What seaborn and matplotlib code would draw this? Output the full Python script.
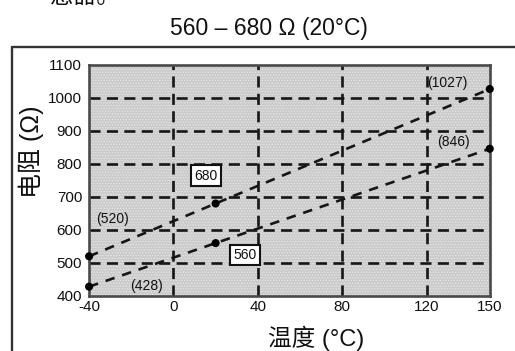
import matplotlib
matplotlib.use("Agg")
import matplotlib.pyplot as plt
import pandas as pd
import seaborn as sns
from matplotlib.lines import Line2D
from matplotlib.patches import Rectangle

# Resistance characteristic of the temperature sensor (upper / lower limit)
temps = [-40, 20, 150]
r_max = [520, 680, 1027]
r_min = [428, 560, 846]

x_ticks = [-40, 0, 40, 80, 120, 150]
y_ticks = [400, 500, 600, 700, 800, 900, 1000, 1100]

title = "560 – 680 Ω (20°C)"
x_label = "温度 (°C)"
y_label = "电阻 (Ω)"
caption_tail = "感器。"

df = pd.DataFrame({"temp": temps, "r_max": r_max, "r_min": r_min})

sns.set_theme(style="white")
plt.rcParams["font.family"] = ["Liberation Sans", "Noto Sans CJK SC", "DejaVu Sans"]
plt.rcParams["axes.unicode_minus"] = False
plt.rcParams["hatch.linewidth"] = 0.6

fig = plt.figure(figsize=(5.15, 3.51), dpi=100)
ax = fig.add_axes([0.173, 0.157, 0.778, 0.658])

# stippled grey plot area
ax.set_facecolor("#cbcbcb")
ax.add_patch(Rectangle((0, 0), 1, 1, transform=ax.transAxes, facecolor="none",
                       edgecolor="#e6e6e6", hatch="......", lw=0, zorder=0))

dash = (0, (4.2, 2.4))
for yv in y_ticks[1:-1]:
    ax.axhline(yv, color="#161616", lw=1.9, linestyle=dash, zorder=1)
for xv in x_ticks[1:-1]:
    ax.axvline(xv, color="#161616", lw=1.9, linestyle=dash, zorder=1)

line_dash = (0, (3.6, 3.0))
sns.lineplot(data=df, x="temp", y="r_max", ax=ax, color="#161616", lw=1.9,
             linestyle=line_dash, zorder=2)
sns.lineplot(data=df, x="temp", y="r_min", ax=ax, color="#161616", lw=1.9,
             linestyle=line_dash, zorder=2)
sns.scatterplot(data=df, x="temp", y="r_max", ax=ax, color="black", s=34,
                edgecolor="none", clip_on=False, zorder=6)
sns.scatterplot(data=df, x="temp", y="r_min", ax=ax, color="black", s=34,
                edgecolor="none", clip_on=False, zorder=6)

ax.set_xlim(-40, 150)
ax.set_ylim(400, 1100)
ax.set_xticks(x_ticks)
ax.set_yticks(y_ticks)
ax.tick_params(axis="both", length=0, labelsize=11, colors="#111111")
ax.tick_params(axis="y", pad=5)
ax.tick_params(axis="x", pad=3)
ax.set_xlabel("")
ax.set_ylabel("")
for sp in ax.spines.values():
    sp.set_color("#4a4a4a")
    sp.set_linewidth(1.9)
    sp.set_zorder(5)

# value labels
lab_kw = dict(fontsize=10, color="#111111", ha="center", va="center", zorder=7)
ax.text(-29, 632, f"({r_max[0]})", **lab_kw)
ax.text(-13, 430, f"({r_min[0]})", **lab_kw)
ax.text(130, 1045, f"({r_max[2]})", **lab_kw)
ax.text(133, 866, f"({r_min[2]})", **lab_kw)
box = dict(boxstyle="square,pad=0.25", facecolor="white", edgecolor="#111111", lw=1.5)
ax.text(15.5, 764, f"{r_max[1]}", bbox=box, **lab_kw)
ax.text(34, 524, f"{r_min[1]}", bbox=box, **lab_kw)

# titles
fig.text(268.5 / 515, 1 - 29 / 351, title, ha="center", va="center",
         fontsize=16.5, color="#111111")
fig.text(316 / 515, 1 - 326 / 351, x_label, ha="center", va="top",
         fontsize=17, color="#111111")
fig.text(31 / 515, 1 - 151.5 / 351, y_label, ha="center", va="center",
         rotation=90, fontsize=18, color="#111111")
fig.text(50 / 515, 1 - 8 / 351, caption_tail, ha="left", va="bottom",
         fontsize=17, color="#111111")

# outer frame
fx = 12 / 515
fy = 1 - 47 / 351
fig.add_artist(Line2D([fx, fx], [0, fy], transform=fig.transFigure,
                      color="#333333", lw=1.7))
fig.add_artist(Line2D([fx, 1], [fy, fy], transform=fig.transFigure,
                      color="#333333", lw=1.7))

fig.savefig("out.png", dpi=100, facecolor="white")
